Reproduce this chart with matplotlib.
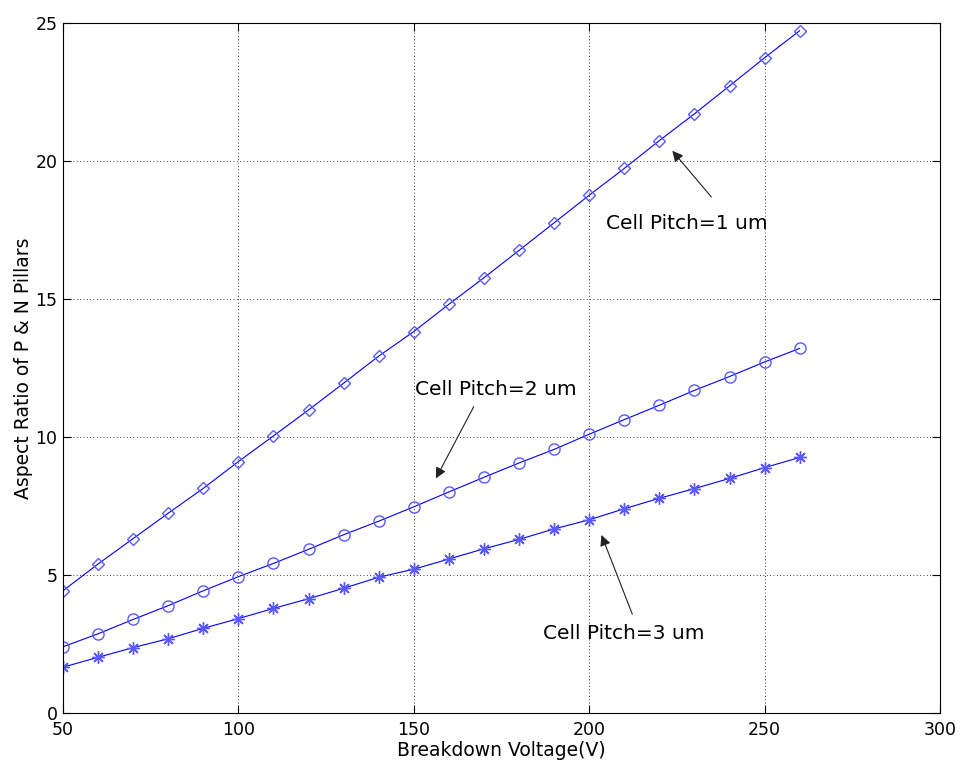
"""Aspect ratio of P & N pillars vs breakdown voltage for three cell pitches."""

import matplotlib
matplotlib.use("Agg")
import matplotlib.pyplot as plt

plt.rcParams["font.family"] = ["DejaVu Sans"]

voltage = [50, 60, 70, 80, 90, 100, 110, 120, 130, 140, 150,
           160, 170, 180, 190, 200, 210, 220, 230, 240, 250, 260]

pitch_1um = [4.43, 5.40, 6.32, 7.24, 8.14, 9.11, 10.04, 10.98, 11.95, 12.93, 13.82,
             14.81, 15.77, 16.76, 17.76, 18.76, 19.73, 20.74, 21.71, 22.72, 23.74, 24.72]
pitch_2um = [2.40, 2.87, 3.39, 3.89, 4.43, 4.94, 5.42, 5.93, 6.46, 6.95, 7.47,
             8.01, 8.54, 9.06, 9.55, 10.10, 10.63, 11.15, 11.69, 12.19, 12.72, 13.21]
pitch_3um = [1.66, 2.02, 2.37, 2.69, 3.07, 3.42, 3.79, 4.14, 4.52, 4.92, 5.21,
             5.58, 5.95, 6.29, 6.67, 7.00, 7.40, 7.78, 8.13, 8.50, 8.89, 9.26]

# label text, text position, arrow tail, arrow head (data coords)
labels = ["Cell Pitch=1 um", "Cell Pitch=2 um", "Cell Pitch=3 um"]
label_xy = [(204.7, 17.75), (150.3, 11.73), (186.8, 2.89)]
arrow_tail = [(234.8, 18.70), (167.1, 11.10), (212.3, 3.58)]
arrow_head = [(223.7, 20.37), (156.3, 8.50), (203.5, 6.45)]

fig = plt.figure(figsize=(9.63, 7.69), dpi=100)
ax = fig.add_axes([0.0654, 0.0728, 0.9107, 0.8973])

line_kw = dict(color="blue", lw=0.8, mfc="none", mec="#5a5aff", mew=1.0)
ax.plot(voltage, pitch_1um, marker="D", ms=6, **line_kw)
ax.plot(voltage, pitch_2um, marker="o", ms=8, **line_kw)
ax.plot(voltage, pitch_3um, marker=(8, 2, 0), ms=9, **line_kw)

for text, pos, tail, head in zip(labels, label_xy, arrow_tail, arrow_head):
    ax.text(pos[0], pos[1], text, fontsize=14.5, va="center", ha="left")
    ax.annotate("", xy=head, xytext=tail,
                arrowprops=dict(arrowstyle="-|>", color="#222222", lw=0.8,
                                mutation_scale=16, shrinkA=0, shrinkB=0))

ax.set_xlim(50, 300)
ax.set_ylim(0, 25)
ax.set_xticks([50, 100, 150, 200, 250, 300])
ax.set_yticks([0, 5, 10, 15, 20, 25])
ax.grid(True, color="black", linestyle=(0, (1, 3)), lw=0.6)
ax.tick_params(direction="in", top=True, right=True, length=6, labelsize=12.5)
ax.tick_params(axis="x", pad=6)
ax.tick_params(axis="y", pad=4)
for sp in ax.spines.values():
    sp.set_linewidth(0.8)

ax.set_xlabel("Breakdown Voltage(V)", fontsize=13.5, labelpad=1)
ax.set_ylabel("Aspect Ratio of P & N Pillars", fontsize=13.5, labelpad=2)

fig.savefig("out.png", dpi=100)
